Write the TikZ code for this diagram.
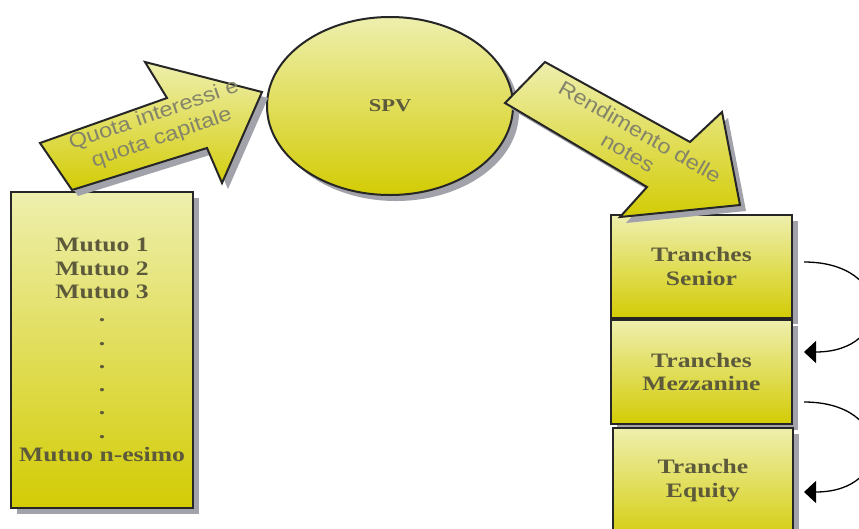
\documentclass[tikz,border=0pt]{standalone}
\usepackage{fontspec}
\setmainfont{Liberation Serif}
\newfontfamily\boxfont[FakeStretch=1.25]{Liberation Serif}
\newfontfamily\arrfont[FakeStretch=1.15]{Liberation Sans}
\usetikzlibrary{shapes.geometric,shadows,arrows.meta,calc}
\definecolor{ylight}{HTML}{EEEFAE}
\definecolor{ydark}{HTML}{D3CC05}
\definecolor{txtbox}{HTML}{5C5A3A}
\definecolor{txtarr}{HTML}{84846A}
\definecolor{shadowgray}{HTML}{A2A2AA}
\begin{document}
\begin{tikzpicture}[x=1pt,y=-1pt,
  yshade/.style={top color=ylight,bottom color=ydark,draw=black!85,line width=2pt},
  shad/.style={drop shadow={shadow xshift=6pt,shadow yshift=-6pt,fill=shadowgray,opacity=1}},
  boxtxt/.style={font=\boxfont\bfseries\fontsize{20.5}{23.3}\selectfont,text=txtbox,align=center},
  arrtxt/.style={font=\arrfont\fontsize{20.5}{24}\selectfont,text=txtarr,align=center},
  backarr/.style={-{Triangle[length=12pt,width=22pt]},line width=1.3pt}
]
\clip (0,0) rectangle (859,528);
\fill[white] (0,0) rectangle (859,528);

% pool of loans
\node[yshade,shad,minimum width=182pt,minimum height=316pt,inner sep=0pt,boxtxt] (pool) at (102,350)
  {Mutuo 1\\Mutuo 2\\Mutuo 3\\.\\.\\.\\.\\.\\.\\Mutuo n-esimo};

% SPV
\node[ellipse,yshade,shad,minimum width=246pt,minimum height=178pt,boxtxt,
      font=\boxfont\bfseries\fontsize{18}{20}\selectfont] (spv) at (390,106) {SPV};

% tranches
\node[yshade,shad,minimum width=181pt,minimum height=103pt,boxtxt] (sen) at (701.5,266.5) {Tranches\\Senior};
\node[yshade,shad,minimum width=181pt,minimum height=104pt,boxtxt] (mez) at (701.5,372) {Tranches\\Mezzanine};
\node[yshade,shad,minimum width=180pt,minimum height=117pt] (eq) at (703,486.5) {};
\node[boxtxt] (eqtxt) at (703,480.5) {Tranche\\Equity};

% block arrows
\filldraw[yshade,shad,line join=miter] (72,190) -- (40,143) -- (167,98) -- (145,62) -- (262,92) -- (222,183) -- (207,148) -- cycle;
\node[arrtxt,rotate=19] (qtxt) at (158,127) {Quota interessi e\\quota capitale};

\filldraw[yshade,shad,line join=miter] (545,62) -- (505,103) -- (647,187) -- (620,217) -- (740,205) -- (722,112) -- (690,142) -- cycle;
\node[arrtxt,rotate=-30] (rtxt) at (634,142) {Rendimento delle\\notes};

% curved arrows
\draw[backarr] ($(sen.east)+(11,-4.5)$) to[out=0,in=0,distance=90pt] ($(mez.east)+(11,-20)$);
\draw[backarr] ($(mez.east)+(11,30)$) to[out=0,in=0,distance=90pt] ($(eq.east)+(10,5.5)$);
\end{tikzpicture}
\end{document}
